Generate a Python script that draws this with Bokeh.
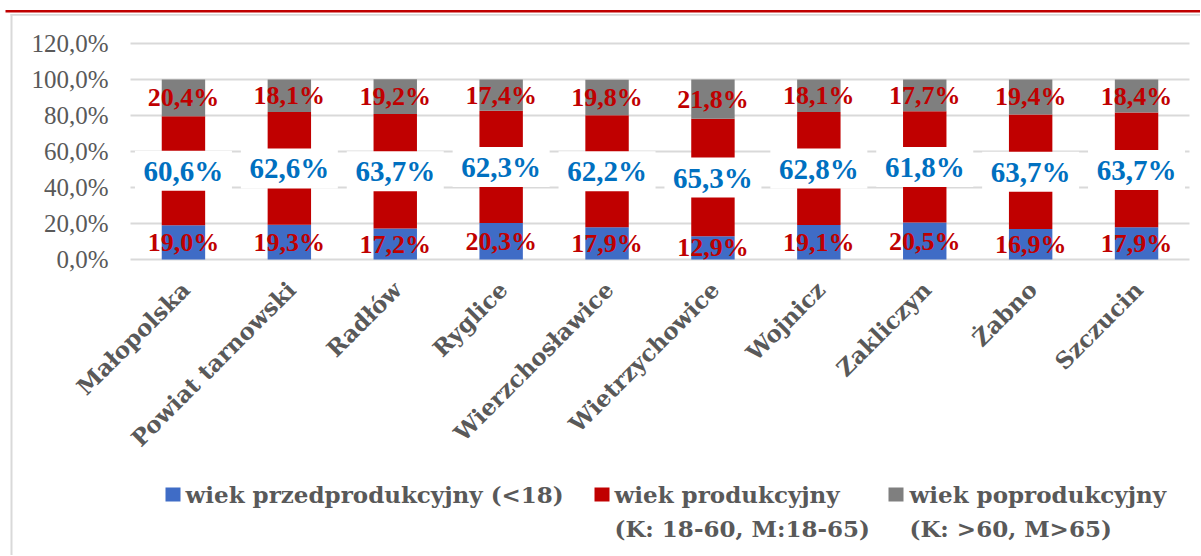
import math
from bokeh.plotting import figure
from bokeh.models import Range1d, ColumnDataSource
from bokeh.core.properties import value
from bokeh.embed import file_html
from bokeh.resources import INLINE

# ---------------- data ----------------
categories = ["Małopolska", "Powiat tarnowski", "Radłów", "Ryglice", "Wierzchosławice",
              "Wietrzychowice", "Wojnicz", "Zakliczyn", "Żabno", "Szczucin"]
pre_prod = [19.0, 19.3, 17.2, 20.3, 17.9, 12.9, 19.1, 20.5, 16.9, 17.9]
prod = [60.6, 62.6, 63.7, 62.3, 62.2, 65.3, 62.8, 61.8, 63.7, 63.7]
post_prod = [20.4, 18.1, 19.2, 17.4, 19.8, 21.8, 18.1, 17.7, 19.4, 18.4]
series_names = ["wiek przedprodukcyjny (<18)",
                "wiek produkcyjny\n(K: 18-60, M:18-65)",
                "wiek poprodukcyjny\n(K: >60, M>65)"]
y_ticks = [0, 20, 40, 60, 80, 100, 120]
y_tick_labels = ["0,0%", "20,0%", "40,0%", "60,0%", "80,0%", "100,0%", "120,0%"]

# ---------------- style / layout ----------------
C_BLUE = "#3F6CC6"
C_RED = "#C00000"
C_GREY = "#7F7F7F"
C_LBLUE = "#0070C0"
C_TEXT = "#595959"
C_GRID = "#D9D9D9"
SERIF = "Liberation Serif"
SERIF2 = "DejaVu Serif"

W, H = 1200, 555
PLOT_L, PLOT_R = 130, 1189      # pixel extent of the category area
PLOT_T, PLOT_B = 43, 259        # pixel positions of the 120% and 0% lines
N = len(categories)
Y_MAX = y_ticks[-1]
PX_X = (PLOT_R - PLOT_L) / N
PX_Y = (PLOT_B - PLOT_T) / Y_MAX


def dx(px):
    return (px - PLOT_L) / PX_X


def dy(py):
    return (PLOT_B - py) / PX_Y


def fmt(v):
    return f"{v:.1f}%".replace(".", ",")


xs = [i + 0.5 for i in range(N)]
b1 = [0.0] * N
t1 = list(pre_prod)
t2 = [a + b for a, b in zip(t1, prod)]
t3 = [a + b for a, b in zip(t2, post_prod)]

src = ColumnDataSource(dict(
    x=xs, cat=categories,
    b1=b1, t1=t1, b2=t1, t2=t2, b3=t2, t3=t3,
    c1=[(a + b) / 2 for a, b in zip(b1, t1)],
    c2=[(a + b) / 2 for a, b in zip(t1, t2)],
    c3=[(a + b) / 2 for a, b in zip(t2, t3)],
    l1=[fmt(v) for v in pre_prod],
    l2=[fmt(v) for v in prod],
    l3=[fmt(v) for v in post_prod],
))

p = figure(width=W, height=H, x_range=Range1d(dx(0), dx(W)), y_range=Range1d(dy(H), dy(0)),
           output_backend="svg", toolbar_location=None,
           x_axis_location=None, y_axis_location=None,
           min_border_left=0, min_border_right=0, min_border_top=0, min_border_bottom=0)
p.outline_line_color = None
p.grid.visible = False
p.background_fill_color = "white"
p.border_fill_color = "white"

# ---- page decorations: red rule and chart box border ----
p.quad(left=[dx(5)], right=[dx(W)], top=[dy(9.5)], bottom=[dy(12)], fill_color=C_RED, line_color=None)
p.quad(left=[dx(10), dx(10)], right=[dx(W), dx(12)], top=[dy(13.5), dy(13.5)],
       bottom=[dy(15.3), dy(H)], fill_color=C_GRID, line_color=None)

# ---- gridlines ----
p.segment(x0=[0] * len(y_ticks), x1=[N] * len(y_ticks), y0=y_ticks, y1=y_ticks,
          line_color=C_GRID, line_width=2)

# ---- y tick labels ----
p.text(x=[0] * len(y_ticks), y=y_ticks, text=y_tick_labels, x_offset=-22,
       text_align="right", text_baseline="middle", text_font=value(SERIF),
       text_font_size="25px", text_color=C_TEXT)

# ---- category labels (rotated 45 deg) ----
p.text(x="x", y=0, text="cat", source=src, angle=math.pi / 4, x_offset=2, y_offset=26,
       text_align="right", text_baseline="middle", text_font=value(SERIF2),
       text_font_style="bold", text_font_size="23px", text_color=C_TEXT)

# ---- stacked bars ----
BW = 0.41
p.vbar(x="x", bottom="b1", top="t1", width=BW, source=src, fill_color=C_BLUE, line_color=None)
p.vbar(x="x", bottom="b2", top="t2", width=BW, source=src, fill_color=C_RED, line_color=None)
p.vbar(x="x", bottom="b3", top="t3", width=BW, source=src, fill_color=C_GREY, line_color=None)

# white boxes behind the middle-series labels
p.rect(x="x", y="c2", width=97, height=40, width_units="screen", height_units="screen",
       source=src, fill_color="white", line_color=None)

common = dict(text_align="center", text_baseline="middle", text_font=value(SERIF),
              text_font_style="bold", source=src)
p.text(x="x", y="c1", text="l1", text_font_size="26px", text_color=C_RED, **common)
p.text(x="x", y="c2", text="l2", text_font_size="29px", text_color=C_LBLUE, **common)
p.text(x="x", y="c3", text="l3", text_font_size="26px", text_color=C_RED, **common)

# ---- legend ----
legend_colors = [C_BLUE, C_RED, C_GREY]
marker_x = [165, 594, 888]
text_x = [185, 614, 909]
row_y = [494, 528]
p.rect(x=[dx(m + 7.5) for m in marker_x], y=[dy(row_y[0])] * 3, width=15, height=14,
       width_units="screen", height_units="screen", fill_color=legend_colors, line_color=None)
lx, ly, lt = [], [], []
for name, tx in zip(series_names, text_x):
    for i, line in enumerate(name.split("\n")):
        lx.append(dx(tx))
        ly.append(dy(row_y[i]))
        lt.append(line)
p.text(x=lx, y=ly, text=lt, text_align="left", text_baseline="middle",
       text_font=value(SERIF2), text_font_style="bold", text_font_size="23px",
       text_color=C_TEXT)

open("out.html", "w").write(file_html(p, INLINE))
